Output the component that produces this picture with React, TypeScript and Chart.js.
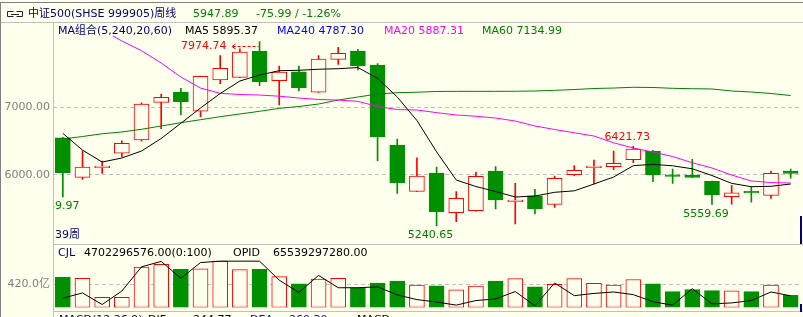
import React, { useEffect, useRef } from 'react';
import { Chart, registerables } from 'chart.js';

Chart.register(...registerables);

// ---------- data ----------
const weeks = [
  'W01', 'W02', 'W03', 'W04', 'W05', 'W06', 'W07', 'W08', 'W09', 'W10',
  'W11', 'W12', 'W13', 'W14', 'W15', 'W16', 'W17', 'W18', 'W19', 'W20',
  'W21', 'W22', 'W23', 'W24', 'W25', 'W26', 'W27', 'W28', 'W29', 'W30',
  'W31', 'W32', 'W33', 'W34', 'W35', 'W36', 'W37', 'W38',
];
const openPx = [6549, 5961, 6105, 6318, 6515, 7074, 7227, 6941, 7405, 7445, 7835, 7395, 7528, 7223, 7712, 7835, 7628, 6441, 5754, 6025, 5436, 5466, 6055, 5600, 5688, 5561, 6000, 6105, 6119, 6223, 6352, 6000, 5996, 5902, 5674, 5755, 5694, 6055];
const closePx = [6030, 6114, 6130, 6466, 7049, 7148, 7083, 7460, 7579, 7820, 7380, 7524, 7291, 7717, 7801, 7617, 6564, 5881, 5981, 5451, 5650, 5976, 5625, 5625, 5496, 5947, 6065, 6130, 6169, 6381, 5996, 5975, 5961, 5703, 5733, 5730, 6021, 6021];
const highPx = [6555, 6356, 6203, 6504, 7068, 7197, 7282, 7465, 7766, 7869, 7974.74, 7613, 7610, 7766, 7890, 7861, 7647, 6530, 6252, 6114, 5748, 6040, 6119, 5872, 5783, 5981, 6134, 6218, 6352, 6421.73, 6360, 6085, 6228, 5905, 5843, 5822, 6055, 6083];
const lowPx = [5669.97, 5932, 6021, 6267, 6496, 6682, 6890, 6861, 7350, 7440, 7320, 7034, 7242, 7220, 7638, 7553, 6208, 5724, 5750, 5240.65, 5303, 5460, 5491, 5269, 5417, 5516, 5985, 5862, 6074, 6178, 5896, 5872, 5960, 5559.69, 5562, 5591, 5650, 5948];
const ma5 = [6614, 6365, 6188, 6248, 6352, 6537, 6763, 6990, 7205, 7390, 7479, 7543, 7549, 7565, 7573, 7590, 7430, 7153, 6805, 6340, 5921, 5825, 5751, 5669, 5684, 5739, 5761, 5862, 5966, 6134, 6154, 6132, 6088, 5988, 5872, 5822, 5828, 5862];
const ma20 = [8700, 8400, 8150, 7984, 7840, 7657, 7450, 7286, 7208, 7190, 7182, 7165, 7138, 7116, 7108, 7089, 7012, 6967, 6960, 6921, 6886, 6868, 6841, 6797, 6723, 6671, 6623, 6574, 6474, 6396, 6337, 6270, 6178, 6100, 5996, 5907, 5884, 5877];
const ma60 = [6530, 6567, 6608, 6634, 6674, 6723, 6772, 6816, 6861, 6901, 6941, 6985, 7012, 7049, 7108, 7153, 7197, 7217, 7224, 7235, 7237, 7237, 7237, 7238, 7242, 7252, 7264, 7279, 7286, 7297, 7294, 7282, 7276, 7272, 7242, 7227, 7205, 7175];
// volume in 亿
const volume = [546, 528, 184, 184, 730, 781, 688, 700, 838, 683, 688, 558, 425, 511, 528, 356, 442, 477, 403, 391, 317, 386, 477, 523, 373, 420, 523, 437, 403, 506, 425, 287, 322, 305, 299, 287, 403, 219];
const opid = [167, 262, 52, 296, 735, 833, 528, 812, 838, 838, 838, 494, 270, 580, 356, 356, 373, 227, 141, 98, 41, 124, 153, 287, 29, 442, 213, 253, 279, 231, 103, 41, 339, 64, 81, 124, 279, 210];
const priceTicks = [6000, 7000];
const volumeTicks = [420];
// extreme value marks
const highMarks = [10, 29];
const lowMarks = [0, 19, 33];

// ---------- styles ----------
const BG = '#FFFFEE';
const RED = '#FF0000';
const GREEN = '#009000';
const TXT_GREEN = '#008000';
const NAVY = '#000080';
const GRID = '#C0C0C0';
const AXIS_TXT = '#808080';
const FAMILY = '"DejaVu Sans", "Noto Sans CJK SC", sans-serif';
const FONT = `11px ${FAMILY}`;

const up = closePx.map((c, i) => c >= openPx[i]);
const candleColor = up.map((u) => (u ? RED : GREEN));
const bodyFill = up.map((u) => (u ? BG : GREEN));
const bodies = openPx.map((o, i) => [Math.min(o, closePx[i]), Math.max(o, closePx[i])]);
const wicks = lowPx.map((l, i) => [l, highPx[i]]);

function txt(ctx: CanvasRenderingContext2D, s: string, x: number, y: number, color: string, align: CanvasTextAlign = 'left') {
  ctx.fillStyle = color;
  ctx.textAlign = align;
  ctx.fillText(s, x, y);
}

const priceDecor = {
  id: 'priceDecor',
  afterDraw(chart: any) {
    const ctx: CanvasRenderingContext2D = chart.ctx;
    const xs = chart.scales.x;
    const ys = chart.scales.y;
    const area = chart.chartArea;
    ctx.save();
    // frame
    ctx.fillStyle = '#808080';
    ctx.fillRect(0, 2, 803, 1);
    ctx.fillRect(0, 2, 1, 315);
    ctx.fillStyle = GRID;
    ctx.fillRect(1, 22, 802, 1);
    ctx.fillRect(53, 22, 1, 295);
    ctx.fillRect(53, 244, 750, 1);

    // title icon
    ctx.strokeStyle = '#202040';
    ctx.lineWidth = 1;
    ctx.beginPath();
    ctx.moveTo(13.5, 11.5); ctx.lineTo(7.5, 11.5); ctx.lineTo(7.5, 16.5); ctx.lineTo(13.5, 16.5);
    ctx.moveTo(16.5, 11.5); ctx.lineTo(22.5, 11.5); ctx.lineTo(22.5, 16.5); ctx.lineTo(16.5, 16.5);
    ctx.moveTo(11, 14.5); ctx.lineTo(19, 14.5);
    ctx.stroke();

    ctx.font = FONT;
    ctx.textBaseline = 'middle';
    txt(ctx, '中证500(SHSE 999905)周线', 28, 14, NAVY);
    txt(ctx, '5947.89', 193, 14, TXT_GREEN);
    txt(ctx, '-75.99 / -1.26%', 256, 14, TXT_GREEN);

    txt(ctx, 'MA组合(5,240,20,60)', 58, 31, NAVY);
    txt(ctx, 'MA5 5895.37', 185, 31, '#000000');
    txt(ctx, 'MA240 4787.30', 277, 31, '#0000FF');
    txt(ctx, 'MA20 5887.31', 384, 31, '#FF00FF');
    txt(ctx, 'MA60 7134.99', 482, 31, TXT_GREEN);

    // extreme labels
    ctx.save();
    ctx.beginPath();
    ctx.rect(area.left + 1, 23, area.right - area.left, 244 - 23);
    ctx.clip();
    highMarks.forEach((i, k) => {
      const cx = xs.getPixelForValue(i);
      const hy = ys.getPixelForValue(highPx[i]);
      if (k === 0) {
        const ly = Math.round(hy + 4.5) + 0.5;
        txt(ctx, highPx[i].toFixed(2), cx - 33, ly, RED, 'right');
        ctx.strokeStyle = RED;
        ctx.lineWidth = 1;
        ctx.beginPath();
        ctx.moveTo(cx - 24, ly - 2.5); ctx.lineTo(cx - 27.5, ly); ctx.lineTo(cx - 24, ly + 2.5);
        ctx.stroke();
        ctx.setLineDash([3, 2]);
        ctx.beginPath();
        ctx.moveTo(cx - 27, ly); ctx.lineTo(cx - 1, ly);
        ctx.stroke();
        ctx.setLineDash([]);
      } else {
        txt(ctx, highPx[i].toFixed(2), cx - 6, hy - 9, RED, 'center');
      }
    });
    lowMarks.forEach((i) => {
      const cx = xs.getPixelForValue(i);
      const ly = ys.getPixelForValue(lowPx[i]);
      txt(ctx, lowPx[i].toFixed(2), cx - 6, ly + 9.5, TXT_GREEN, 'center');
    });
    txt(ctx, '39周', 55, 235, NAVY);
    ctx.restore();

    // cursor marker
    ctx.fillStyle = NAVY;
    ctx.fillRect(800, 216, 2, 28);
    ctx.restore();
  },
};

const volDecor = {
  id: 'volDecor',
  afterDraw(chart: any) {
    const ctx: CanvasRenderingContext2D = chart.ctx;
    ctx.save();
    ctx.fillStyle = GRID;
    ctx.fillRect(53, 311, 750, 1);
    ctx.fillStyle = NAVY;
    ctx.fillRect(800, 304, 2, 8);
    ctx.font = FONT;
    ctx.textBaseline = 'middle';
    txt(ctx, 'CJL', 58, 253, NAVY);
    txt(ctx, '4702296576.00(0:100)', 84, 253, '#000000');
    txt(ctx, 'OPID', 233, 253, '#000000');
    txt(ctx, '65539297280.00', 273, 253, '#000000');
    ctx.textBaseline = 'top';
    txt(ctx, 'MACD(12,26,9)', 59, 315, NAVY);
    txt(ctx, 'DIF', 148, 315, '#000000');
    txt(ctx, '-244.77', 189, 315, '#000000');
    txt(ctx, 'DEA', 250, 315, '#0000FF');
    txt(ctx, '-260.30', 285, 315, '#0000FF');
    txt(ctx, 'MACD', 357, 315, '#000000');
    ctx.restore();
  },
};

export default function App() {
  const priceRef = useRef<HTMLCanvasElement | null>(null);
  const volRef = useRef<HTMLCanvasElement | null>(null);

  useEffect(() => {
    document.body.style.margin = '0';
    const common = {
      animation: false as const,
      responsive: false,
      devicePixelRatio: 1,
      events: [] as any[],
      plugins: { legend: { display: false }, tooltip: { enabled: false } },
    };
    const price = new Chart(priceRef.current as HTMLCanvasElement, {
      type: 'bar',
      data: {
        labels: weeks,
        datasets: [
          { type: 'line', label: 'MA5', data: ma5, borderColor: '#000000', borderWidth: 1, pointRadius: 0, tension: 0, order: 0 } as any,
          { type: 'line', label: 'MA20', data: ma20, borderColor: '#FF00FF', borderWidth: 1, pointRadius: 0, tension: 0, order: 0 } as any,
          { type: 'line', label: 'MA60', data: ma60, borderColor: '#008000', borderWidth: 1, pointRadius: 0, tension: 0, order: 0 } as any,
          { type: 'bar', label: 'body', data: bodies, backgroundColor: bodyFill, borderColor: candleColor, borderWidth: 1, borderSkipped: false, barThickness: 15, grouped: false, order: 1 } as any,
          { type: 'bar', label: 'wick', data: wicks, backgroundColor: candleColor, borderWidth: 0, barThickness: 1, grouped: false, order: 2 } as any,
        ],
      },
      options: {
        ...common,
        layout: { padding: { top: 36, bottom: 74, left: 0, right: 2.5 } },
        scales: {
          x: { display: false, offset: true, grid: { display: false } },
          y: {
            min: 4987,
            max: 8058,
            afterFit: (s: any) => { s.width = 53; },
            afterBuildTicks: (s: any) => { s.ticks = priceTicks.map((v) => ({ value: v })); },
            ticks: { color: AXIS_TXT, padding: 3, font: { family: FAMILY, size: 11 }, callback: (v: any) => Number(v).toFixed(2) },
            grid: { color: GRID, drawTicks: false },
            border: { display: false, dash: [4, 3] },
          },
        },
      } as any,
      plugins: [priceDecor],
    });

    const vol = new Chart(volRef.current as HTMLCanvasElement, {
      type: 'bar',
      data: {
        labels: weeks,
        datasets: [
          { type: 'line', label: 'OPID', data: opid, borderColor: '#000000', borderWidth: 1, pointRadius: 0, tension: 0, order: 0 } as any,
          { type: 'bar', label: 'CJL', data: volume, backgroundColor: bodyFill, borderColor: candleColor, borderWidth: 1, borderSkipped: false, barThickness: 15, grouped: false, order: 1 } as any,
        ],
      },
      options: {
        ...common,
        layout: { padding: { top: 244.5, bottom: 6.3, left: 0, right: 2.5 } },
        scales: {
          x: { display: false, offset: true, grid: { display: false } },
          y: {
            min: 0,
            max: 1139.5,
            afterFit: (s: any) => { s.width = 53; },
            afterBuildTicks: (s: any) => { s.ticks = volumeTicks.map((v) => ({ value: v })); },
            ticks: { color: AXIS_TXT, padding: 3, font: { family: FAMILY, size: 11 }, callback: (v: any) => Number(v).toFixed(1) + '亿' },
            grid: { color: GRID, drawTicks: false },
            border: { display: false, dash: [4, 3] },
          },
        },
      } as any,
      plugins: [volDecor],
    });

    return () => {
      price.destroy();
      vol.destroy();
    };
  }, []);

  return (
    <div style={{ position: 'fixed', left: 0, top: 0, width: 803, height: 317, background: BG, overflow: 'hidden' }}>
      <canvas ref={priceRef} width={803} height={317} style={{ position: 'absolute', left: 0, top: 0 }} />
      <canvas ref={volRef} width={803} height={317} style={{ position: 'absolute', left: 0, top: 0 }} />
    </div>
  );
}
